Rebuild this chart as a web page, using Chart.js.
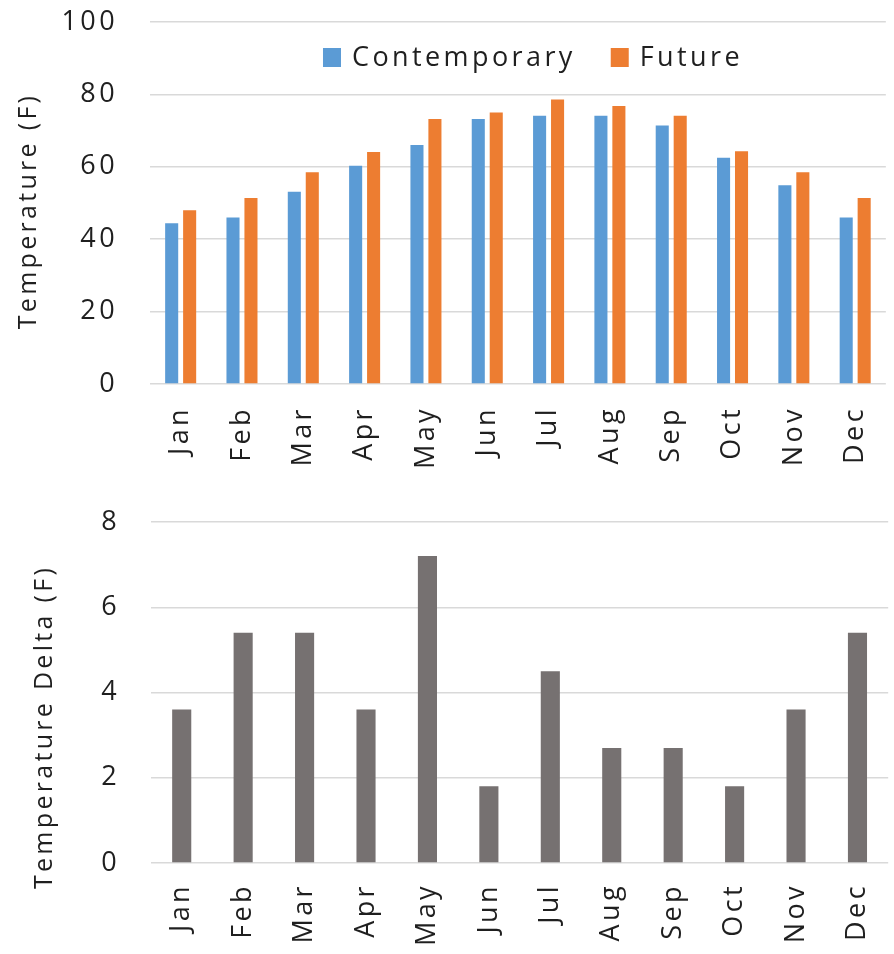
<!DOCTYPE html>
<html>
<head>
<meta charset="utf-8">
<script src="https://cdn.jsdelivr.net/npm/chart.js@4.4.0/dist/chart.umd.min.js"></script>
<style>
  html, body { margin: 0; padding: 0; background: #fff; overflow: hidden; }
  .box { position: absolute; left: 0; width: 910px; }
  #top { top: 0; height: 490px; }
  #bottom { top: 490px; height: 464px; }
</style>
</head>
<body>
<div class="box" id="top"><canvas id="tempChart" width="910" height="490"></canvas></div>
<div class="box" id="bottom"><canvas id="deltaChart" width="910" height="464"></canvas></div>
<script>
const months = ['Jan', 'Feb', 'Mar', 'Apr', 'May', 'Jun', 'Jul', 'Aug', 'Sep', 'Oct', 'Nov', 'Dec'];
const contemporary = [44.4, 46.0, 53.1, 60.3, 66.0, 73.2, 74.1, 74.1, 71.4, 62.5, 54.9, 46.0];
const future = [48.0, 51.4, 58.5, 64.1, 73.2, 75.0, 78.6, 76.8, 74.1, 64.3, 58.5, 51.4];
const delta = [3.6, 5.4, 5.4, 3.6, 7.2, 1.8, 4.5, 2.7, 2.7, 1.8, 3.6, 5.4];
const tempTicks = [0, 20, 40, 60, 80, 100];
const deltaTicks = [0, 2, 4, 6, 8];

const TEXT_COLOR = '#1f1f1f';
const TEXT_SPACING = '3.4px';

Chart.defaults.font.family = "'Open Sans', sans-serif";
Chart.defaults.font.size = 27;
Chart.defaults.color = TEXT_COLOR;

// the original text is set quite loose, so widen it a bit
const spacing = {
    id: 'spacing',
    beforeUpdate(chart) { chart.ctx.letterSpacing = TEXT_SPACING; },
    beforeDraw(chart) { chart.ctx.letterSpacing = TEXT_SPACING; }
};

// y axis title, drawn where the original puts it
const axisTitle = {
    id: 'axisTitle',
    afterDraw(chart, args, opts) {
        const ctx = chart.ctx;
        ctx.save();
        ctx.letterSpacing = '3.3px';
        ctx.font = "25px 'Open Sans', sans-serif";
        ctx.fillStyle = TEXT_COLOR;
        ctx.translate(opts.x, opts.y);
        ctx.rotate(-Math.PI / 2);
        ctx.textAlign = 'center';
        ctx.textBaseline = 'middle';
        ctx.fillText(opts.text, 0, 0);
        ctx.restore();
    }
};

// legend sitting inside the plot area
const insideLegend = {
    id: 'insideLegend',
    afterDraw(chart, args, opts) {
        if (!opts.show) return;
        const ctx = chart.ctx;
        ctx.save();
        ctx.letterSpacing = TEXT_SPACING;
        ctx.font = "27px 'Open Sans', sans-serif";
        const items = chart.data.datasets.map(ds => ({
            text: ds.label,
            color: ds.backgroundColor,
            w: ctx.measureText(ds.label).width
        }));
        let total = 0;
        items.forEach((it, i) => {
            total += opts.boxW + opts.gap + it.w + (i ? opts.itemGap : 0);
        });
        let x = opts.centerX - total / 2;
        items.forEach(it => {
            ctx.fillStyle = it.color;
            ctx.fillRect(x, opts.y - opts.boxH / 2, opts.boxW, opts.boxH);
            x += opts.boxW + opts.gap;
            ctx.fillStyle = TEXT_COLOR;
            ctx.textAlign = 'left';
            ctx.textBaseline = 'middle';
            ctx.fillText(it.text, x, opts.y + 1);
            x += it.w + opts.itemGap;
        });
        ctx.restore();
    }
};

// tick padding would also pad the top of the chart, so the label gap
// comes from an invisible tick mark instead
function yScale(ticks, width, gap) {
    return {
        min: ticks[0],
        max: ticks[ticks.length - 1],
        afterBuildTicks: function(scale) {
            scale.ticks = ticks.map(v => ({ value: v }));
        },
        grid: { color: '#D9D9D9', lineWidth: 1.5, drawTicks: true, tickLength: gap, tickColor: 'rgba(0,0,0,0)' },
        border: { display: false },
        ticks: { padding: 0 },
        afterFit: function(scale) { scale.width = width; }
    };
}

function xScale(height, padding) {
    return {
        grid: { display: false, drawTicks: false },
        border: { display: false },
        ticks: { minRotation: 90, maxRotation: 90, autoSkip: false, padding: padding },
        afterFit: function(scale) { scale.height = height; }
    };
}

function renderTempChart() {
    const ctx = document.getElementById('tempChart');

    new Chart(ctx, {
        type: 'bar',
        data: {
            labels: months,
            datasets: [{
                label: 'Contemporary',
                data: contemporary,
                backgroundColor: '#5B9BD5'
            }, {
                label: 'Future',
                data: future,
                backgroundColor: '#ED7D31'
            }]
        },
        options: {
            responsive: false,
            animation: false,
            layout: { padding: { top: 22, right: 10, left: 0, bottom: 0 } },
            datasets: { bar: { categoryPercentage: 0.586, barPercentage: 0.727 } },
            plugins: {
                legend: { display: false },
                tooltip: { enabled: false },
                insideLegend: { show: true, centerX: 533, y: 57.5, boxW: 18, boxH: 19, gap: 11, itemGap: 35 },
                axisTitle: { text: 'Temperature (F)', x: 29, y: 211 }
            },
            scales: {
                x: xScale(106, 22),
                y: yScale(tempTicks, 150, 32)
            }
        },
        plugins: [spacing, insideLegend, axisTitle]
    });
}

function renderDeltaChart() {
    const ctx = document.getElementById('deltaChart');

    new Chart(ctx, {
        type: 'bar',
        data: {
            labels: months,
            datasets: [{
                label: 'Temperature Delta',
                data: delta,
                backgroundColor: '#767171'
            }]
        },
        options: {
            responsive: false,
            animation: false,
            layout: { padding: { top: 32, right: 3, left: 0, bottom: 0 } },
            datasets: { bar: { categoryPercentage: 1, barPercentage: 0.311 } },
            plugins: {
                legend: { display: false },
                tooltip: { enabled: false },
                insideLegend: { show: false },
                axisTitle: { text: 'Temperature Delta (F)', x: 45, y: 237 }
            },
            scales: {
                x: xScale(91, 20),
                y: yScale(deltaTicks, 151, 31)
            }
        },
        plugins: [spacing, insideLegend, axisTitle]
    });
}

renderTempChart();
renderDeltaChart();
</script>
</body>
</html>
